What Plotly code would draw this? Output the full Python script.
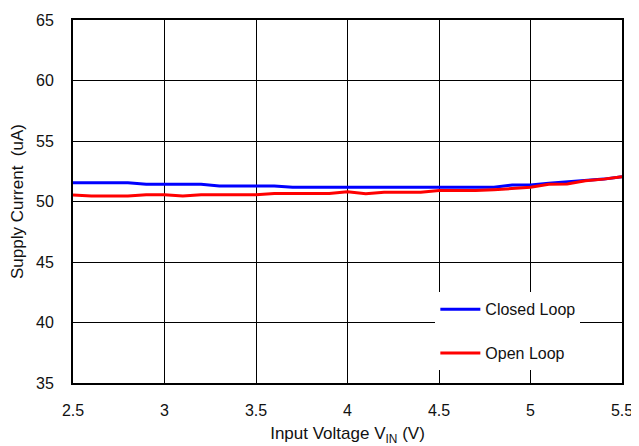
import plotly.graph_objects as go

# input voltage (V)
vin = [2.5, 2.6, 2.7, 2.8, 2.9, 3.0, 3.1, 3.2, 3.3, 3.4, 3.5, 3.6, 3.7, 3.8, 3.9, 4.0,
       4.1, 4.2, 4.3, 4.4, 4.5, 4.6, 4.7, 4.8, 4.9, 5.0, 5.1, 5.2, 5.3, 5.4, 5.5]

# supply current (uA)
closed_loop = [51.55, 51.55, 51.55, 51.55, 51.42, 51.42, 51.42, 51.42, 51.28, 51.28, 51.28,
               51.28, 51.17, 51.17, 51.17, 51.17, 51.17, 51.17, 51.17, 51.17, 51.17, 51.17,
               51.17, 51.17, 51.36, 51.36, 51.5, 51.6, 51.72, 51.85, 52.05]
open_loop = [50.54, 50.45, 50.45, 50.45, 50.56, 50.56, 50.45, 50.56, 50.56, 50.56, 50.56,
             50.67, 50.67, 50.67, 50.67, 50.8, 50.65, 50.76, 50.76, 50.76, 50.9, 50.9,
             50.9, 50.98, 51.08, 51.17, 51.42, 51.45, 51.72, 51.85, 52.05]

x_ticks = [2.5, 3, 3.5, 4, 4.5, 5, 5.5]
y_ticks = [35, 40, 45, 50, 55, 60, 65]

font = "Arial, Liberation Sans, sans-serif"
tick_font = dict(family=font, size=16, color="#111111")
title_font = dict(family=font, size=17, color="#111111")

fig = go.Figure()

fig.add_trace(go.Scatter(
    x=vin, y=closed_loop, mode="lines", name="Closed Loop",
    line=dict(color="#0000ff", width=3), legendgroup="a"
))
fig.add_trace(go.Scatter(
    x=vin, y=open_loop, mode="lines", name="Open Loop",
    line=dict(color="#ff0000", width=3), legendgroup="b"
))

# page body has an 8px margin, so the figure is a bit smaller than the window
fig.update_layout(
    width=631, height=438,
    margin=dict(l=65, r=17, t=12, b=63, autoexpand=False),
    paper_bgcolor="white", plot_bgcolor="white",
    font=dict(family=font, size=16, color="#111111"),
    showlegend=True,
    legend=dict(
        x=0.66, y=0.25, xanchor="left", yanchor="top",
        bgcolor="white", borderwidth=0,
        font=dict(family=font, size=16, color="#111111"),
        tracegroupgap=20,
        itemwidth=40,
        traceorder="grouped",
    ),
)

fig.update_xaxes(
    range=[2.5, 5.5], tickvals=x_ticks, ticktext=[str(t) for t in x_ticks],
    tickfont=tick_font, automargin=False, ticklabelstandoff=12,
    showgrid=True, gridcolor="#000000", gridwidth=1,
    showline=True, linecolor="#000000", linewidth=2, mirror=True,
    ticks="", zeroline=False,
    title=dict(text="Input Voltage V<sub>IN</sub> (V)", standoff=15, font=title_font),
)
fig.update_yaxes(
    range=[35, 65], tickvals=y_ticks,
    tickfont=tick_font, automargin=False, ticklabelstandoff=14,
    showgrid=True, gridcolor="#000000", gridwidth=1,
    showline=True, linecolor="#000000", linewidth=2, mirror=True,
    ticks="", zeroline=False,
    title=dict(text="Supply Current  (uA)", standoff=12, font=title_font),
)

fig.write_html("out.html")
